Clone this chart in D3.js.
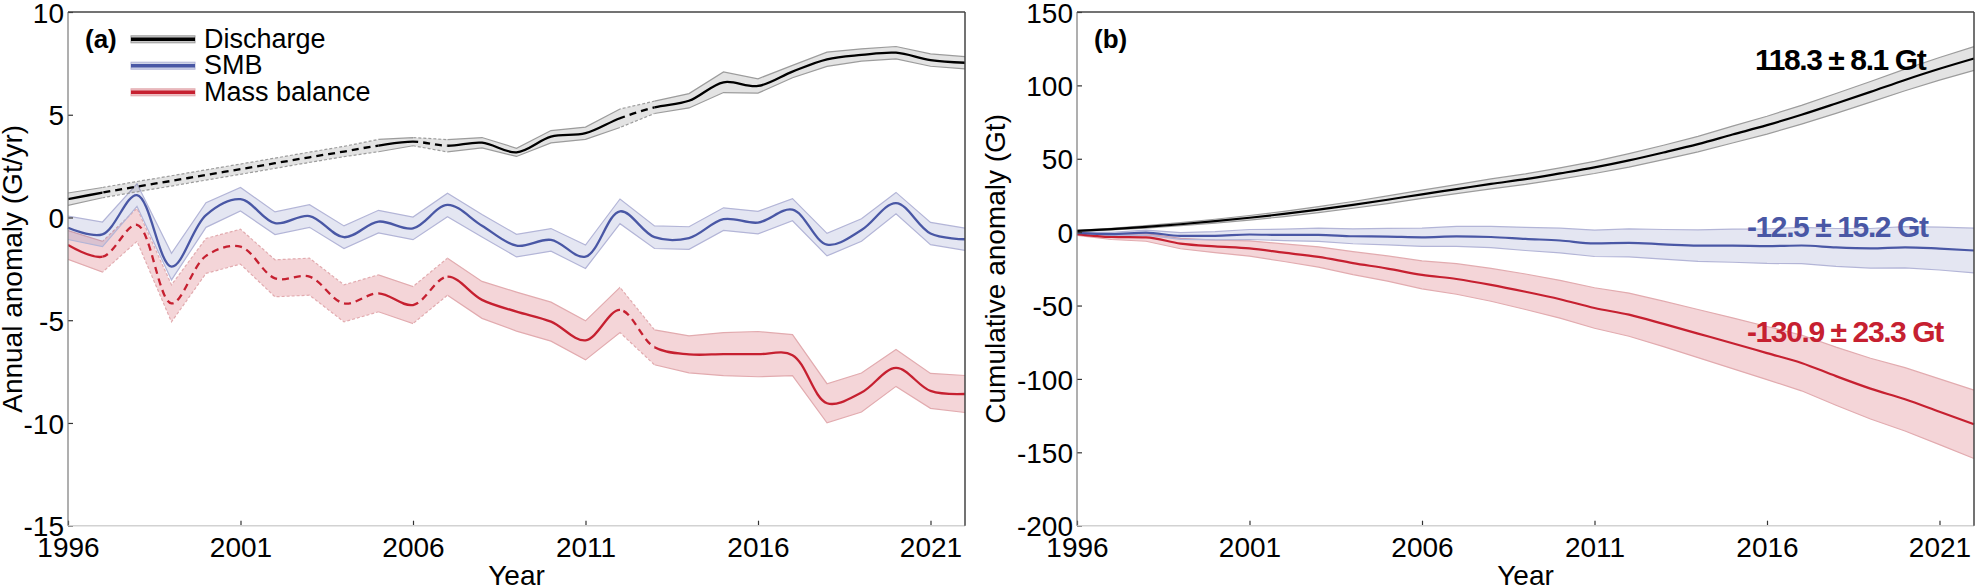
<!DOCTYPE html>
<html>
<head>
<meta charset="utf-8">
<script src="https://cdn.jsdelivr.net/npm/d3@7"></script>
<style>
  html, body { margin: 0; padding: 0; background: #fff; }
  svg { display: block; font-family: "Liberation Sans", Arial, sans-serif; }
</style>
</head>
<body>
<div id="chart"></div>
<script>
// Datos
const YEARS = [1996, 1997, 1998, 1999, 2000, 2001, 2002, 2003, 2004, 2005, 2006, 2007, 2008,
  2009, 2010, 2011, 2012, 2013, 2014, 2015, 2016, 2017, 2018, 2019, 2020, 2021, 2022];

// (a) anomalía anual (Gt/yr)
const DISCHARGE = [0.89, 1.21, 1.50, 1.78, 2.07, 2.35, 2.64, 2.93, 3.21, 3.50, 3.69, 3.49, 3.64,
  3.17, 3.93, 4.10, 4.83, 5.36, 5.68, 6.58, 6.40, 7.10, 7.70, 7.91, 8.02, 7.66, 7.53];
const DISCHARGE_ERR = [0.30, 0.25, 0.25, 0.25, 0.25, 0.25, 0.25, 0.25, 0.25, 0.30, 0.20, 0.30, 0.25,
  0.20, 0.30, 0.30, 0.45, 0.30, 0.35, 0.50, 0.35, 0.30, 0.35, 0.30, 0.30, 0.30, 0.30];
const SMB = [-0.50, -0.82, 1.09, -2.39, 0.12, 0.89, -0.28, 0.07, -0.96, -0.20, -0.53, 0.61, -0.40,
  -1.37, -1.09, -1.91, 0.30, -0.96, -1.00, -0.08, -0.25, 0.38, -1.32, -0.61, 0.70, -0.78, -1.06];
const SMB_ERR = [0.57, 0.60, 0.55, 0.65, 0.60, 0.57, 0.55, 0.55, 0.55, 0.55, 0.55, 0.57, 0.55,
  0.55, 0.55, 0.57, 0.60, 0.55, 0.55, 0.55, 0.55, 0.54, 0.55, 0.55, 0.52, 0.54, 0.54];
const MASS_BALANCE = [-1.34, -1.91, -0.36, -4.18, -1.87, -1.42, -2.96, -2.88, -4.18, -3.69, -4.26, -2.88, -4.01,
  -4.58, -5.07, -5.98, -4.50, -6.32, -6.66, -6.65, -6.65, -6.70, -9.04, -8.52, -7.32, -8.44, -8.59];
const MASS_BALANCE_ERR = [0.70, 0.75, 0.80, 0.90, 0.85, 0.85, 0.90, 0.90, 0.90, 0.90, 0.90, 0.90, 0.90,
  0.95, 0.95, 0.95, 1.10, 0.85, 0.90, 1.05, 1.10, 1.00, 0.95, 0.95, 0.90, 0.85, 0.90];
// años donde empieza un tramo interpolado (línea discontinua)
const GAP_START_YEARS = [1997, 1998, 1999, 2000, 2001, 2002, 2003, 2004, 2006, 2012];

// (b) anomalía acumulada (Gt)
const CUM_DISCHARGE = [0.9, 2.1, 3.6, 5.4, 7.5, 9.8, 12.4, 15.3, 18.6, 22.1, 25.8, 29.3, 32.9,
  36.1, 40.0, 44.1, 48.9, 54.3, 60.0, 66.5, 72.9, 80.0, 87.7, 95.6, 103.7, 111.3, 118.3];
const CUM_DISCHARGE_ERR = [0.3, 0.55, 0.8, 1.05, 1.3, 1.55, 1.8, 2.05, 2.3, 2.6, 2.8, 3.1, 3.35,
  3.55, 3.85, 4.15, 4.6, 4.9, 5.25, 5.75, 6.1, 6.4, 6.75, 7.05, 7.35, 7.7, 8.1];
const CUM_SMB = [-0.5, -1.3, -0.3, -2.6, -2.5, -1.6, -1.9, -1.8, -2.8, -3.0, -3.5, -2.9, -3.3,
  -4.6, -5.7, -7.6, -7.3, -8.3, -9.2, -9.2, -9.5, -9.1, -10.4, -11.0, -10.3, -11.2, -12.5];
const CUM_SMB_ERR = [0.6, 1.1, 1.7, 2.3, 2.8, 3.4, 3.9, 4.5, 5.1, 5.6, 6.2, 6.8, 7.3,
  7.9, 8.4, 9.0, 9.6, 10.1, 10.7, 11.3, 11.8, 12.4, 12.9, 13.5, 14.1, 14.6, 15.2];
const CUM_MASS_BALANCE = [-1.3, -3.3, -3.6, -7.8, -9.7, -11.1, -14.0, -16.9, -21.1, -24.8, -29.1, -31.9, -35.9,
  -40.6, -45.7, -51.7, -56.2, -62.5, -69.1, -75.7, -82.4, -89.1, -98.1, -106.6, -113.9, -122.4, -130.9];
const CUM_MASS_BALANCE_ERR = [0.9, 1.7, 2.6, 3.5, 4.3, 5.2, 6.0, 6.9, 7.8, 8.6, 9.5, 10.4, 11.2,
  12.1, 12.9, 13.8, 14.7, 15.5, 16.4, 17.3, 18.1, 19.0, 19.8, 20.7, 21.6, 22.4, 23.3];

const SERIES_NAMES = ['Discharge', 'SMB', 'Mass balance'];
const TOTAL_LABELS = ['118.3 ± 8.1 Gt', '-12.5 ± 15.2 Gt', '-130.9 ± 23.3 Gt'];
const X_TICKS = [1996, 2001, 2006, 2011, 2016, 2021];
const Y_TICKS_A = [-15, -10, -5, 0, 5, 10];
const Y_TICKS_B = [-200, -150, -100, -50, 0, 50, 100, 150];

// Estilos
const STYLE = {
  'Discharge': { color: '#000000', band: 0.11, edge: '#9c9c9c' },
  'SMB': { color: '#4957a5', band: 0.15, edge: '#b3b5d7' },
  'Mass balance': { color: '#c62030', band: 0.19, edge: '#e2abaf' }
};

const W = 1976, H = 587;
const TOP = 12, BOTTOM = 525.7;

const svg = d3.select('#chart').append('svg')
  .attr('width', W).attr('height', H)
  .attr('viewBox', `0 0 ${W} ${H}`);
svg.append('rect').attr('width', W).attr('height', H).attr('fill', '#fff');
const defs = svg.append('defs');

function drawPanel(p) {
  const x = d3.scaleLinear().domain([1996, 2022]).range([p.left, p.right]);
  const y = d3.scaleLinear().domain(p.yDomain).range([BOTTOM, TOP]);
  const g = svg.append('g');

  // recortes para tramos continuos / discontinuos
  const solidClip = defs.append('clipPath').attr('id', p.id + '-solid');
  const dashClip = defs.append('clipPath').attr('id', p.id + '-dash');
  YEARS.slice(0, -1).forEach((yr, i) => {
    const target = p.gaps.includes(yr) ? dashClip : solidClip;
    target.append('rect')
      .attr('x', x(yr)).attr('y', 0)
      .attr('width', x(YEARS[i + 1]) - x(yr)).attr('height', H);
  });

  const data = p.series.map((s) => ({
    name: s.name,
    dashed: s.dashed,
    pts: YEARS.map((yr, i) => ({ yr, v: s.values[i], e: s.err[i] }))
  }));

  // bandas de incertidumbre (rojo, azul, gris)
  const drawOrder = [2, 1, 0];
  drawOrder.forEach((k) => {
    const s = data[k];
    const st = STYLE[s.name];
    const area = d3.area().x((d) => x(d.yr)).y0((d) => y(d.v - d.e)).y1((d) => y(d.v + d.e));
    g.append('path').attr('d', area(s.pts))
      .attr('fill', st.color).attr('fill-opacity', st.band).attr('stroke', 'none');
    [-1, 1].forEach((sign) => {
      const edge = d3.line().x((d) => x(d.yr)).y((d) => y(d.v + sign * d.e));
      g.append('path').attr('d', edge(s.pts))
        .attr('fill', 'none').attr('stroke', st.edge).attr('stroke-width', 1.2)
        .attr('clip-path', s.dashed ? `url(#${p.id}-solid)` : null);
      if (s.dashed) {
        g.append('path').attr('d', edge(s.pts))
          .attr('fill', 'none').attr('stroke', st.edge).attr('stroke-width', 1.2)
          .attr('stroke-dasharray', '3,2')
          .attr('clip-path', `url(#${p.id}-dash)`);
      }
    });
  });

  // líneas centrales
  drawOrder.forEach((k) => {
    const s = data[k];
    const st = STYLE[s.name];
    const line = d3.line().x((d) => x(d.yr)).y((d) => y(d.v)).curve(p.curve);
    g.append('path').attr('d', line(s.pts))
      .attr('fill', 'none').attr('stroke', st.color).attr('stroke-width', p.lineWidth)
      .attr('clip-path', s.dashed ? `url(#${p.id}-solid)` : null);
    if (s.dashed) {
      g.append('path').attr('d', line(s.pts))
        .attr('fill', 'none').attr('stroke', st.color).attr('stroke-width', p.lineWidth)
        .attr('stroke-dasharray', '7,5')
        .attr('clip-path', `url(#${p.id}-dash)`);
    }
  });

  // ejes
  const xAxis = d3.axisBottom(x).tickValues(X_TICKS).tickSize(-5).tickPadding(11)
    .tickFormat((d) => String(d));
  const gx = svg.append('g').attr('transform', `translate(0,${BOTTOM})`).call(xAxis);
  const yAxis = d3.axisLeft(y).tickValues(p.yTicks).tickSize(-5).tickPadding(4)
    .tickFormat((d) => String(d));
  const gy = svg.append('g').attr('transform', `translate(${p.left},0)`).call(yAxis);
  [gx, gy].forEach((ax) => {
    ax.select('.domain').remove();
    ax.selectAll('.tick line').attr('stroke', '#333').attr('stroke-width', 1.2);
    ax.selectAll('.tick text').attr('fill', '#000').attr('font-size', 28)
      .attr('font-family', '"Liberation Sans", Arial, sans-serif');
  });
  gy.selectAll('.tick text').attr('dy', '0.36em');

  // marco
  svg.append('line').attr('x1', p.left).attr('x2', p.right).attr('y1', BOTTOM).attr('y2', BOTTOM)
    .attr('stroke', '#d2d2d2').attr('stroke-width', 1.5);
  svg.append('line').attr('x1', p.left).attr('x2', p.left).attr('y1', TOP).attr('y2', BOTTOM)
    .attr('stroke', '#7a7a7a').attr('stroke-width', 1.2);
  svg.append('line').attr('x1', p.left).attr('x2', p.right).attr('y1', TOP).attr('y2', TOP)
    .attr('stroke', '#444').attr('stroke-width', 1.5);
  svg.append('line').attr('x1', p.right).attr('x2', p.right).attr('y1', TOP).attr('y2', BOTTOM)
    .attr('stroke', '#444').attr('stroke-width', 1.5);

  // títulos de ejes
  svg.append('text').attr('x', (p.left + p.right) / 2).attr('y', 585)
    .attr('text-anchor', 'middle').attr('font-size', 28).text('Year');
  svg.append('text')
    .attr('transform', `translate(${p.titleX},${(TOP + BOTTOM) / 2}) rotate(-90)`)
    .attr('text-anchor', 'middle').attr('font-size', 28).text(p.yTitle);

  // etiqueta del panel
  svg.append('text').attr('x', p.left + 17).attr('y', 48)
    .attr('font-size', 26).attr('font-weight', 'bold').text(p.tag);

  return { x, y };
}

drawPanel({
  id: 'pa', left: 68, right: 965, yDomain: [-15, 10], yTicks: Y_TICKS_A,
  gaps: GAP_START_YEARS, curve: d3.curveCatmullRom.alpha(0.5), lineWidth: 2.3,
  titleX: 22, yTitle: 'Annual anomaly (Gt/yr)', tag: '(a)',
  series: [
    { name: 'Discharge', values: DISCHARGE, err: DISCHARGE_ERR, dashed: true },
    { name: 'SMB', values: SMB, err: SMB_ERR, dashed: false },
    { name: 'Mass balance', values: MASS_BALANCE, err: MASS_BALANCE_ERR, dashed: true }
  ]
});

drawPanel({
  id: 'pb', left: 1077, right: 1974, yDomain: [-200, 150], yTicks: Y_TICKS_B,
  gaps: [], curve: d3.curveMonotoneX, lineWidth: 2.2,
  titleX: 1005, yTitle: 'Cumulative anomaly (Gt)', tag: '(b)',
  series: [
    { name: 'Discharge', values: CUM_DISCHARGE, err: CUM_DISCHARGE_ERR, dashed: false },
    { name: 'SMB', values: CUM_SMB, err: CUM_SMB_ERR, dashed: false },
    { name: 'Mass balance', values: CUM_MASS_BALANCE, err: CUM_MASS_BALANCE_ERR, dashed: false }
  ]
});

// leyenda del panel (a)
const legend = svg.append('g');
const legendY = [39.3, 65.7, 92.3];
SERIES_NAMES.forEach((name, i) => {
  const st = STYLE[name];
  legend.append('rect').attr('x', 131).attr('y', legendY[i] - 3.5).attr('width', 64).attr('height', 7)
    .attr('fill', st.color).attr('fill-opacity', st.band + 0.1).attr('stroke', st.edge).attr('stroke-width', 1);
  legend.append('line').attr('x1', 131).attr('x2', 195).attr('y1', legendY[i]).attr('y2', legendY[i])
    .attr('stroke', st.color).attr('stroke-width', 3.5);
  legend.append('text').attr('x', 204).attr('y', legendY[i] + 8.2)
    .attr('font-size', 27).attr('fill', '#000').text(name);
});

// totales del panel (b)
const totalPos = [{ x: 1755, y: 70 }, { x: 1747, y: 237 }, { x: 1747, y: 342 }];
TOTAL_LABELS.forEach((t, i) => {
  svg.append('text').attr('x', totalPos[i].x).attr('y', totalPos[i].y)
    .attr('font-size', 30).attr('font-weight', 'bold').attr('letter-spacing', -1.4)
    .attr('fill', STYLE[SERIES_NAMES[i]].color).text(t);
});
</script>
</body>
</html>
